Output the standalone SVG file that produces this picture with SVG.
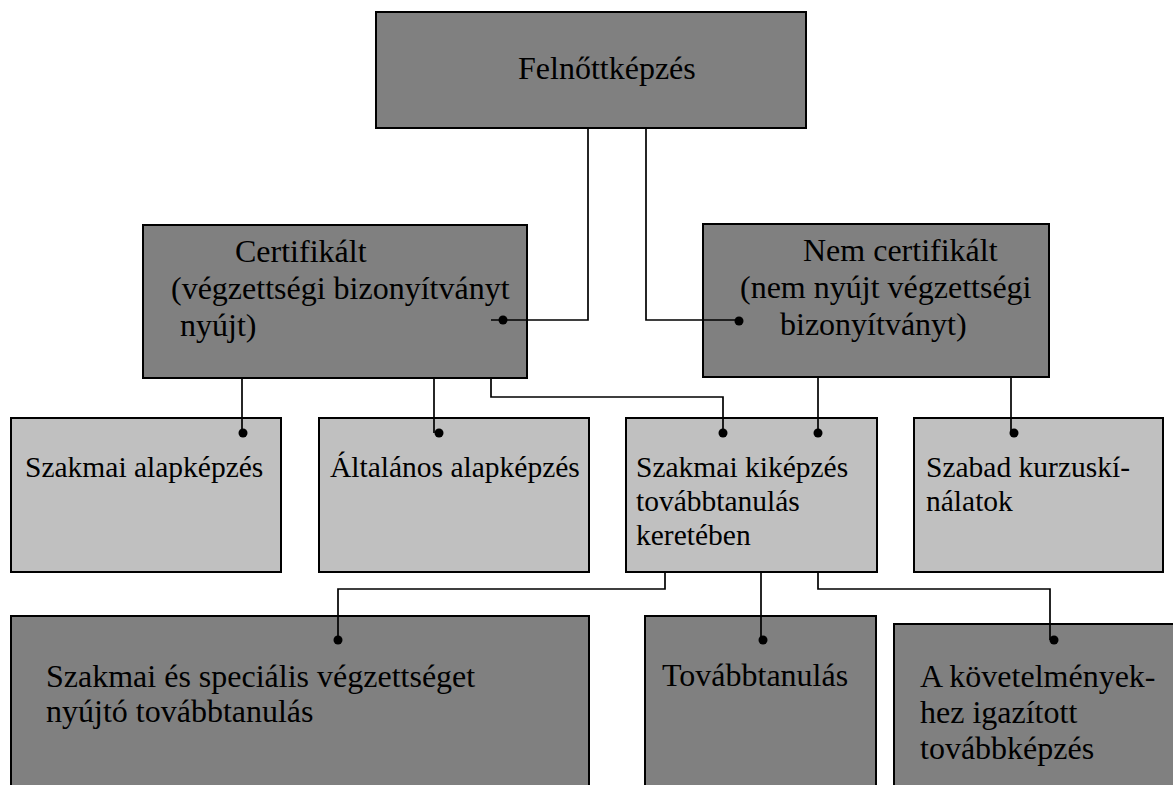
<svg xmlns="http://www.w3.org/2000/svg" width="1173" height="785" viewBox="0 0 1173 785">
<style>
.dark{fill:#808080;stroke:#000;stroke-width:2}
.light{fill:#C0C0C0;stroke:#000;stroke-width:2}
.t32{font-family:"Liberation Serif","Times New Roman",serif;font-size:32px;fill:#000}
.t29{font-family:"Liberation Serif","Times New Roman",serif;font-size:29.5px;fill:#000}
.c{fill:none;stroke:#000;stroke-width:1.7}
.dot{fill:#000}
</style>
<rect width="1173" height="785" fill="#fff"/>
<g id="n-felnott">
<rect class="dark" x="376" y="12" width="430" height="116"/>
<text class="t32" x="518" y="79">Felnőttképzés</text>
</g>
<g id="n-cert">
<rect class="dark" x="143" y="225" width="384" height="153"/>
<text class="t32" x="235" y="262">Certifikált</text>
<text class="t32" x="171" y="299">(végzettségi bizonyítványt</text>
<text class="t32" x="180" y="336">nyújt)</text>
</g>
<g id="n-nemcert">
<rect class="dark" x="703" y="224" width="346" height="153"/>
<text class="t32" x="803" y="261">Nem certifikált</text>
<text class="t32" x="740" y="298">(nem nyújt végzettségi</text>
<text class="t32" x="780" y="335">bizonyítványt)</text>
</g>
<g id="n-szakalap">
<rect class="light" x="11" y="418" width="270" height="154"/>
<text class="t29" x="25" y="477">Szakmai alapképzés</text>
</g>
<g id="n-altalap">
<rect class="light" x="319" y="418" width="270" height="154"/>
<text class="t29" x="330" y="477">Általános alapképzés</text>
</g>
<g id="n-szakkikep">
<rect class="light" x="626" y="418" width="251" height="154"/>
<text class="t29" x="636" y="477">Szakmai kiképzés</text>
<text class="t29" x="636" y="511">továbbtanulás</text>
<text class="t29" x="636" y="545">keretében</text>
</g>
<g id="n-szabad">
<rect class="light" x="914" y="418" width="249" height="154"/>
<text class="t29" x="926" y="477">Szabad kurzuskí-</text>
<text class="t29" x="926" y="511">nálatok</text>
</g>
<g id="n-szakspec">
<rect class="dark" x="11" y="616" width="578" height="200"/>
<text class="t32" x="46" y="687">Szakmai és speciális végzettséget</text>
<text class="t32" x="46" y="722">nyújtó továbbtanulás</text>
</g>
<g id="n-tovabb">
<rect class="dark" x="645" y="616" width="231" height="200"/>
<text class="t32" x="662" y="686">Továbbtanulás</text>
</g>
<g id="n-kovet">
<rect class="dark" x="894" y="624" width="290" height="200"/>
<text class="t32" x="920" y="687">A követelmények-</text>
<text class="t32" x="920" y="723">hez igazított</text>
<text class="t32" x="920" y="759">továbbképzés</text>
</g>
<g id="connectors">
<polyline class="c" points="588,128 588,320 491,320"/>
<circle class="dot" cx="503" cy="320" r="4.5"/>
<polyline class="c" points="646,128 646,320 739,320"/>
<circle class="dot" cx="739" cy="321" r="4.5"/>
<polyline class="c" points="242,378 242,433"/>
<circle class="dot" cx="243" cy="433" r="4.5"/>
<polyline class="c" points="434,378 434,433"/>
<circle class="dot" cx="439" cy="433" r="4.5"/>
<polyline class="c" points="491,378 491,397 723,397 723,433"/>
<circle class="dot" cx="723" cy="433" r="4.5"/>
<polyline class="c" points="818,377 818,433"/>
<circle class="dot" cx="818" cy="433" r="4.5"/>
<polyline class="c" points="1011,377 1011,433"/>
<circle class="dot" cx="1014" cy="433" r="4.5"/>
<polyline class="c" points="665,572 665,589 338,589 338,640"/>
<circle class="dot" cx="338" cy="640" r="4.5"/>
<polyline class="c" points="761,572 761,640"/>
<circle class="dot" cx="763" cy="640" r="4.5"/>
<polyline class="c" points="818,572 818,589 1050,589 1050,640"/>
<circle class="dot" cx="1054" cy="640" r="4.5"/>
</g>
</svg>
